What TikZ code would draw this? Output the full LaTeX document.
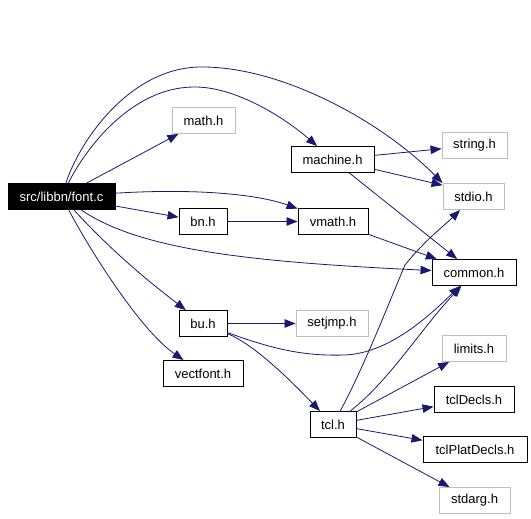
\documentclass[tikz,border=0pt]{standalone}
\usepackage{fontspec}
\setmainfont{Liberation Sans}
\usetikzlibrary{arrows.meta}
\definecolor{edgeblue}{HTML}{191970}
\definecolor{boxgray}{HTML}{BFBFBF}
\tikzset{
  filebox/.style={draw=black, line width=0.9pt, rectangle, inner sep=0pt, minimum height=26pt,
    font=\fontsize{13}{15}\selectfont},
  extbox/.style={filebox, draw=boxgray},
  rootbox/.style={filebox, fill=black, text=white},
  dep/.style={draw=edgeblue, line width=0.8pt, -{Triangle[length=11pt,width=8.5pt]}, color=edgeblue}
}
\begin{document}
\begin{tikzpicture}[x=1pt,y=-1pt]
\useasboundingbox (0,0) rectangle (531,519);
\node[rootbox, minimum width=107pt] (root) at (61.5,196.5) {src/libbn/font.c};
\node[extbox, minimum width=63pt] (math) at (203.5,120.5) {math.h};
\node[filebox, minimum width=48pt] (bn) at (203,221.5) {bn.h};
\node[filebox, minimum width=83pt] (machine) at (332.5,159.5) {machine.h};
\node[extbox, minimum width=65pt] (string) at (474.5,145.5) {string.h};
\node[extbox, minimum width=61pt] (stdio) at (473.5,196.5) {stdio.h};
\node[filebox, minimum width=70pt] (vmath) at (333,221.5) {vmath.h};
\node[filebox, minimum width=84pt] (common) at (474,272.5) {common.h};
\node[filebox, minimum width=48pt] (bu) at (203,323.5) {bu.h};
\node[extbox, minimum width=72pt] (setjmp) at (332,323.5) {setjmp.h};
\node[filebox, minimum width=80pt] (vectfont) at (203,373.5) {vectfont.h};
\node[extbox, minimum width=64pt] (limits) at (474,348.5) {limits.h};
\node[filebox, minimum width=46pt] (tcl) at (333,424.5) {tcl.h};
\node[filebox, minimum width=80pt] (tclDecls) at (474,399.5) {tclDecls.h};
\node[filebox, minimum width=104pt] (tclPlat) at (475,449.5) {tclPlatDecls.h};
\node[extbox, minimum width=71pt] (stdarg) at (474.5,500.5) {stdarg.h};

% from font.c
\draw[dep] (root) -- (math);
\draw[dep] (root) -- (bn);
\draw[dep] (root) .. controls (200,188) and (260,195) .. (vmath);
\draw[dep] (root) .. controls (140,250) and (250,262) .. (common);
\draw[dep] (root) .. controls (120,260) and (160,290) .. (bu);
\draw[dep] (root) .. controls (90,250) and (140,330) .. (vectfont);
\draw[dep] (root) .. controls (85,150) and (130,88) .. (193,87) .. controls (235,86) and (285,118) .. (machine);
\draw[dep] (root) .. controls (80,140) and (130,68) .. (200,67) .. controls (280,66) and (380,120) .. (stdio.north west);
% machine.h
\draw[dep] (machine) -- (string);
\draw[dep] (machine) -- (stdio.160);
\draw[dep] (machine) -- (common);
% bn / vmath
\draw[dep] (bn) -- (vmath);
\draw[dep] (vmath) -- (common);
% bu.h
\draw[dep] (bu) -- (setjmp);
\draw[dep] (bu) .. controls (255,345) and (290,380) .. (tcl);
\draw[dep] (bu) .. controls (280,352) and (310,356) .. (345,355) .. controls (390,353) and (430,315) .. (common);
% tcl.h
\draw[dep] (tcl) .. controls (365,365) and (390,300) .. (405,265) .. controls (425,240) and (445,225) .. (stdio);
\draw[dep] (tcl) .. controls (390,380) and (420,330) .. (common);
\draw[dep] (tcl) -- (limits);
\draw[dep] (tcl) -- (tclDecls);
\draw[dep] (tcl) -- (tclPlat);
\draw[dep] (tcl) -- (stdarg);
\end{tikzpicture}
\end{document}
